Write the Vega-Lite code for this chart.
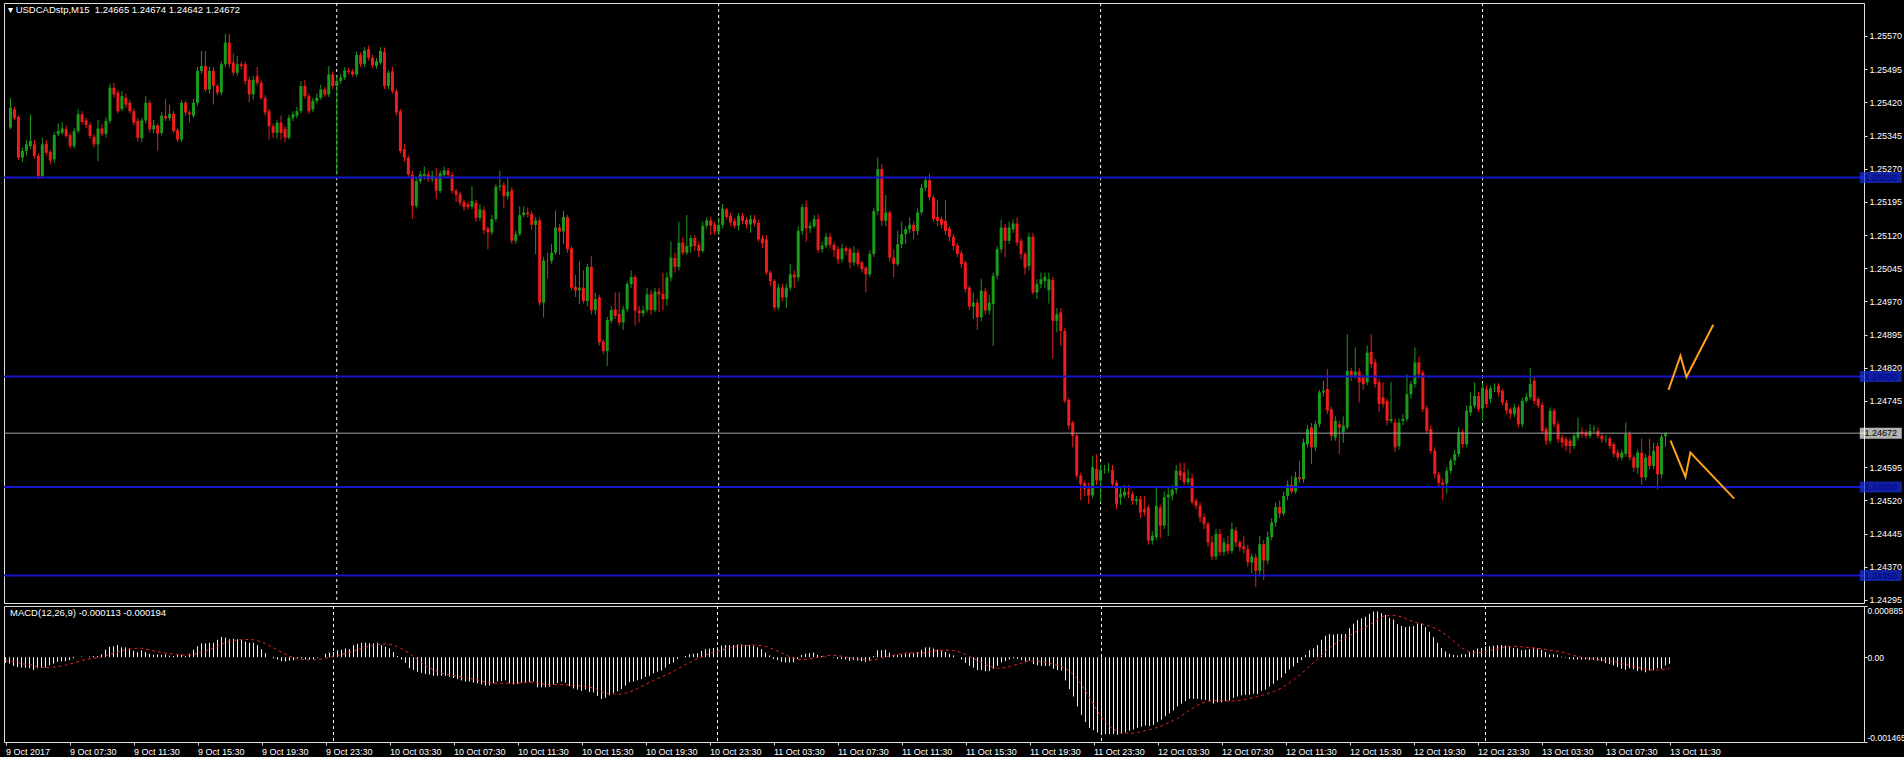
{
"$schema": "https://vega.github.io/schema/vega-lite/v6.json",
"background": "#000000",
"padding": {"left": 2, "top": 2, "right": 0, "bottom": 0},
"bounds": "flush",
"spacing": 3,
"config": {
  "view": {"stroke": "#e0e0e0", "strokeWidth": 1},
  "axis": {"labelFont": "Liberation Sans", "labelFontSize": 9, "labelColor": "#ffffff", "tickColor": "#e0e0e0", "tickSize": 3, "labelPadding": 2, "domain": false, "grid": false},
  "title": {"font": "Liberation Sans", "fontSize": 9.5, "fontWeight": "normal", "color": "#ffffff", "anchor": "start", "frame": "group"}
},
"datasets": {
"sep": [{"i": 82}, {"i": 178}, {"i": 274}, {"i": 370}],
"lv": [{"p": 1.2525, "t": "b"}, {"p": 1.248, "t": "b"}, {"p": 1.2455, "t": "b"}, {"p": 1.2435, "t": "b"}, {"p": 1.24672, "t": "g"}],
"arw": [{"g": "a", "k": 0, "i": 416.75, "p": 1.2477}, {"g": "a", "k": 1, "i": 419.75, "p": 1.24847}, {"g": "a", "k": 2, "i": 421.25, "p": 1.24799}, {"g": "a", "k": 3, "i": 428, "p": 1.24917}, {"g": "b", "k": 0, "i": 417.25, "p": 1.24655}, {"g": "b", "k": 1, "i": 421, "p": 1.24573}, {"g": "b", "k": 2, "i": 422.25, "p": 1.24628}, {"g": "b", "k": 3, "i": 433.25, "p": 1.24524}],
"bars": [
{"i":0,"o":1.25363,"h":1.2543,"l":1.25359,"c":1.25408,"m":-0.0001,"s":-0.00006},
{"i":1,"o":1.25404,"h":1.2541,"l":1.2538,"c":1.25384,"m":-0.00011,"s":-0.00007},
{"i":2,"o":1.25387,"h":1.2539,"l":1.2529,"c":1.25295,"m":-0.00015,"s":-0.00008},
{"i":3,"o":1.25295,"h":1.25318,"l":1.25285,"c":1.2531,"m":-0.00017,"s":-0.00009},
{"i":4,"o":1.2531,"h":1.25335,"l":1.253,"c":1.25325,"m":-0.00018,"s":-0.00011},
{"i":5,"o":1.25321,"h":1.25393,"l":1.25315,"c":1.25333,"m":-0.00018,"s":-0.00012},
{"i":6,"o":1.25325,"h":1.25335,"l":1.25292,"c":1.25299,"m":-0.00019,"s":-0.00013},
{"i":7,"o":1.25299,"h":1.25305,"l":1.25246,"c":1.25253,"m":-0.00022,"s":-0.00014},
{"i":8,"o":1.25253,"h":1.2534,"l":1.2525,"c":1.25325,"m":-0.00019,"s":-0.000166},
{"i":9,"o":1.25326,"h":1.25335,"l":1.253,"c":1.25306,"m":-0.00018,"s":-0.000174},
{"i":10,"o":1.25308,"h":1.25312,"l":1.2528,"c":1.25289,"m":-0.00018,"s":-0.000182},
{"i":11,"o":1.25291,"h":1.25352,"l":1.25284,"c":1.25346,"m":-0.00014,"s":-0.000181},
{"i":12,"o":1.25348,"h":1.25372,"l":1.25343,"c":1.25355,"m":-0.00011,"s":-0.000174},
{"i":13,"o":1.25351,"h":1.25375,"l":1.25346,"c":1.25361,"m":-0.00008,"s":-0.000163},
{"i":14,"o":1.2536,"h":1.25368,"l":1.2534,"c":1.25344,"m":-0.00007,"s":-0.000151},
{"i":15,"o":1.25346,"h":1.25352,"l":1.25316,"c":1.25321,"m":-0.00007,"s":-0.000138},
{"i":16,"o":1.25321,"h":1.25362,"l":1.25316,"c":1.25355,"m":-0.00005,"s":-0.000119},
{"i":17,"o":1.25355,"h":1.25404,"l":1.2535,"c":1.25393,"m":-0.00002,"s":-0.0001},
{"i":18,"o":1.25393,"h":1.254,"l":1.2537,"c":1.25376,"m":0,"s":-0.00008},
{"i":19,"o":1.25379,"h":1.25385,"l":1.25362,"c":1.25369,"m":0.00001,"s":-0.000059},
{"i":20,"o":1.25369,"h":1.25375,"l":1.25338,"c":1.25344,"m":0,"s":-0.000043},
{"i":21,"o":1.25342,"h":1.25348,"l":1.25318,"c":1.25325,"m":0.00001,"s":-0.00003},
{"i":22,"o":1.25325,"h":1.2538,"l":1.25287,"c":1.25361,"m":0.00002,"s":-0.000019},
{"i":23,"o":1.25361,"h":1.2537,"l":1.25343,"c":1.25349,"m":0.00002,"s":-0.000009},
{"i":24,"o":1.25349,"h":1.25386,"l":1.2534,"c":1.25378,"m":0.00005,"s":0.000004},
{"i":25,"o":1.25378,"h":1.25462,"l":1.25372,"c":1.25453,"m":0.00013,"s":0.000024},
{"i":26,"o":1.25453,"h":1.25464,"l":1.2543,"c":1.25438,"m":0.00018,"s":0.000047},
{"i":27,"o":1.25442,"h":1.25448,"l":1.25395,"c":1.254,"m":0.00019,"s":0.000068},
{"i":28,"o":1.25405,"h":1.25445,"l":1.254,"c":1.25434,"m":0.00021,"s":0.00009},
{"i":29,"o":1.2543,"h":1.2544,"l":1.25408,"c":1.25415,"m":0.00017,"s":0.000109},
{"i":30,"o":1.25419,"h":1.25425,"l":1.25395,"c":1.254,"m":0.00017,"s":0.000127},
{"i":31,"o":1.254,"h":1.25406,"l":1.25368,"c":1.25374,"m":0.00015,"s":0.000141},
{"i":32,"o":1.25378,"h":1.25384,"l":1.25331,"c":1.2534,"m":0.00011,"s":0.000151},
{"i":33,"o":1.25339,"h":1.25385,"l":1.2533,"c":1.25379,"m":0.00009,"s":0.000156},
{"i":34,"o":1.25379,"h":1.25434,"l":1.25372,"c":1.25419,"m":0.00012,"s":0.000154},
{"i":35,"o":1.25419,"h":1.25425,"l":1.25352,"c":1.25359,"m":0.00009,"s":0.000144},
{"i":36,"o":1.25359,"h":1.2538,"l":1.2535,"c":1.25368,"m":0.00006,"s":0.00013},
{"i":37,"o":1.25368,"h":1.25372,"l":1.25311,"c":1.25349,"m":0.00004,"s":0.000111},
{"i":38,"o":1.25351,"h":1.25398,"l":1.25345,"c":1.2539,"m":0.00005,"s":0.000098},
{"i":39,"o":1.25389,"h":1.25427,"l":1.25378,"c":1.25384,"m":0.00004,"s":0.000083},
{"i":40,"o":1.25384,"h":1.25415,"l":1.25378,"c":1.25394,"m":0.00005,"s":0.000072},
{"i":41,"o":1.25394,"h":1.254,"l":1.2535,"c":1.25355,"m":0.00003,"s":0.000063},
{"i":42,"o":1.25357,"h":1.25362,"l":1.2533,"c":1.25336,"m":0.00002,"s":0.000056},
{"i":43,"o":1.25336,"h":1.25425,"l":1.2533,"c":1.25419,"m":0.00004,"s":0.000047},
{"i":44,"o":1.25419,"h":1.25424,"l":1.2539,"c":1.25397,"m":0.00004,"s":0.000041},
{"i":45,"o":1.25397,"h":1.25402,"l":1.25374,"c":1.25393,"m":0.00002,"s":0.000037},
{"i":46,"o":1.2539,"h":1.25428,"l":1.25385,"c":1.25419,"m":0.00006,"s":0.000039},
{"i":47,"o":1.25419,"h":1.255,"l":1.25412,"c":1.25491,"m":0.00013,"s":0.000048},
{"i":48,"o":1.25491,"h":1.25536,"l":1.25485,"c":1.25502,"m":0.00019,"s":0.000064},
{"i":49,"o":1.25502,"h":1.25536,"l":1.25443,"c":1.25449,"m":0.00024,"s":0.000086},
{"i":50,"o":1.25449,"h":1.255,"l":1.2544,"c":1.25491,"m":0.00024,"s":0.000109},
{"i":51,"o":1.25491,"h":1.255,"l":1.25415,"c":1.25457,"m":0.00025,"s":0.000134},
{"i":52,"o":1.25457,"h":1.25462,"l":1.25436,"c":1.25442,"m":0.00025,"s":0.000158},
{"i":53,"o":1.25442,"h":1.25512,"l":1.25436,"c":1.25506,"m":0.0003,"s":0.000187},
{"i":54,"o":1.25506,"h":1.25575,"l":1.255,"c":1.25555,"m":0.00035,"s":0.000223},
{"i":55,"o":1.25555,"h":1.25575,"l":1.25498,"c":1.25506,"m":0.00034,"s":0.000254},
{"i":56,"o":1.2551,"h":1.2553,"l":1.2548,"c":1.25487,"m":0.00031,"s":0.000274},
{"i":57,"o":1.25487,"h":1.25525,"l":1.2548,"c":1.25506,"m":0.00032,"s":0.000289},
{"i":58,"o":1.25506,"h":1.25512,"l":1.25495,"c":1.25502,"m":0.00031,"s":0.000297},
{"i":59,"o":1.25506,"h":1.25512,"l":1.2546,"c":1.25468,"m":0.0003,"s":0.000303},
{"i":60,"o":1.25471,"h":1.25478,"l":1.2542,"c":1.25438,"m":0.00027,"s":0.000306},
{"i":61,"o":1.25438,"h":1.2548,"l":1.25426,"c":1.25471,"m":0.00025,"s":0.000306},
{"i":62,"o":1.25479,"h":1.255,"l":1.25458,"c":1.25464,"m":0.00025,"s":0.0003},
{"i":63,"o":1.25464,"h":1.2547,"l":1.25425,"c":1.2543,"m":0.00021,"s":0.000284},
{"i":64,"o":1.2543,"h":1.25436,"l":1.2539,"c":1.25397,"m":0.00014,"s":0.000262},
{"i":65,"o":1.254,"h":1.25405,"l":1.25336,"c":1.25366,"m":0.00007,"s":0.000236},
{"i":66,"o":1.25366,"h":1.25372,"l":1.2534,"c":1.25351,"m":0,"s":0.0002},
{"i":67,"o":1.25351,"h":1.2538,"l":1.25338,"c":1.25374,"m":-0.00002,"s":0.000163},
{"i":68,"o":1.25374,"h":1.2539,"l":1.25335,"c":1.25351,"m":-0.00004,"s":0.000126},
{"i":69,"o":1.2536,"h":1.25366,"l":1.2533,"c":1.2534,"m":-0.00007,"s":0.000088},
{"i":70,"o":1.2534,"h":1.25392,"l":1.25336,"c":1.25385,"m":-0.00007,"s":0.000052},
{"i":71,"o":1.25385,"h":1.254,"l":1.25378,"c":1.25393,"m":-0.00006,"s":0.000018},
{"i":72,"o":1.2539,"h":1.2541,"l":1.25384,"c":1.254,"m":-0.00005,"s":-0.000011},
{"i":73,"o":1.254,"h":1.25468,"l":1.25395,"c":1.25457,"m":-0.00002,"s":-0.000029},
{"i":74,"o":1.25457,"h":1.2547,"l":1.25428,"c":1.25434,"m":-0.00002,"s":-0.000039},
{"i":75,"o":1.25434,"h":1.2544,"l":1.25394,"c":1.254,"m":-0.00004,"s":-0.000043},
{"i":76,"o":1.25404,"h":1.2543,"l":1.25398,"c":1.25423,"m":-0.00004,"s":-0.000046},
{"i":77,"o":1.25423,"h":1.2544,"l":1.25418,"c":1.2543,"m":-0.00003,"s":-0.000044},
{"i":78,"o":1.2543,"h":1.2546,"l":1.25425,"c":1.25449,"m":-0.00001,"s":-0.000038},
{"i":79,"o":1.25449,"h":1.25455,"l":1.25432,"c":1.25438,"m":0,"s":-0.00003},
{"i":80,"o":1.25438,"h":1.25502,"l":1.25432,"c":1.25483,"m":0.00006,"s":-0.000017},
{"i":81,"o":1.25483,"h":1.2549,"l":1.2545,"c":1.25457,"m":0.00008,"s":-0.000002},
{"i":82,"o":1.25457,"h":1.2548,"l":1.25257,"c":1.25468,"m":0.00009,"s":0.00001},
{"i":83,"o":1.25468,"h":1.25484,"l":1.25462,"c":1.25476,"m":0.00012,"s":0.000026},
{"i":84,"o":1.25476,"h":1.255,"l":1.2547,"c":1.25492,"m":0.00013,"s":0.000044},
{"i":85,"o":1.25492,"h":1.25498,"l":1.25484,"c":1.25489,"m":0.00015,"s":0.000066},
{"i":86,"o":1.2549,"h":1.25495,"l":1.25478,"c":1.25483,"m":0.00014,"s":0.000084},
{"i":87,"o":1.25483,"h":1.25535,"l":1.25478,"c":1.25527,"m":0.00021,"s":0.000109},
{"i":88,"o":1.25527,"h":1.25533,"l":1.255,"c":1.25507,"m":0.00023,"s":0.000134},
{"i":89,"o":1.25507,"h":1.25545,"l":1.255,"c":1.25537,"m":0.00025,"s":0.000156},
{"i":90,"o":1.2554,"h":1.25548,"l":1.25515,"c":1.25521,"m":0.00025,"s":0.000174},
{"i":91,"o":1.25521,"h":1.25527,"l":1.25498,"c":1.25504,"m":0.00024,"s":0.000191},
{"i":92,"o":1.25502,"h":1.2552,"l":1.25496,"c":1.25513,"m":0.00024,"s":0.000204},
{"i":93,"o":1.2551,"h":1.25545,"l":1.25505,"c":1.25536,"m":0.00025,"s":0.000218},
{"i":94,"o":1.25534,"h":1.25544,"l":1.2545,"c":1.25457,"m":0.00021,"s":0.000224},
{"i":95,"o":1.25457,"h":1.25492,"l":1.2545,"c":1.25487,"m":0.00018,"s":0.000229},
{"i":96,"o":1.2549,"h":1.255,"l":1.2544,"c":1.25445,"m":0.00015,"s":0.000222},
{"i":97,"o":1.25445,"h":1.2545,"l":1.2539,"c":1.25397,"m":0.00009,"s":0.000207},
{"i":98,"o":1.254,"h":1.25405,"l":1.25305,"c":1.2531,"m":0.00002,"s":0.000181},
{"i":99,"o":1.25314,"h":1.25325,"l":1.25285,"c":1.25295,"m":-0.00004,"s":0.000149},
{"i":100,"o":1.25295,"h":1.253,"l":1.2525,"c":1.25257,"m":-0.0001,"s":0.000111},
{"i":101,"o":1.25257,"h":1.25265,"l":1.25156,"c":1.25186,"m":-0.00019,"s":0.000063},
{"i":102,"o":1.25186,"h":1.2525,"l":1.2518,"c":1.25242,"m":-0.00022,"s":0.000011},
{"i":103,"o":1.25242,"h":1.25265,"l":1.25236,"c":1.25257,"m":-0.00025,"s":-0.00004},
{"i":104,"o":1.25254,"h":1.25275,"l":1.25245,"c":1.25258,"m":-0.00027,"s":-0.00009},
{"i":105,"o":1.25257,"h":1.25264,"l":1.2524,"c":1.25246,"m":-0.00029,"s":-0.000139},
{"i":106,"o":1.25246,"h":1.25265,"l":1.2524,"c":1.25254,"m":-0.0003,"s":-0.000182},
{"i":107,"o":1.2525,"h":1.25272,"l":1.25201,"c":1.2522,"m":-0.00032,"s":-0.00022},
{"i":108,"o":1.2522,"h":1.25265,"l":1.25215,"c":1.25259,"m":-0.00032,"s":-0.000251},
{"i":109,"o":1.25256,"h":1.25275,"l":1.2525,"c":1.25266,"m":-0.00032,"s":-0.000276},
{"i":110,"o":1.25266,"h":1.25272,"l":1.2525,"c":1.25256,"m":-0.00032,"s":-0.00029},
{"i":111,"o":1.25256,"h":1.25262,"l":1.25214,"c":1.2522,"m":-0.00034,"s":-0.000303},
{"i":112,"o":1.2522,"h":1.25225,"l":1.25195,"c":1.25211,"m":-0.00036,"s":-0.000316},
{"i":113,"o":1.25212,"h":1.25218,"l":1.25186,"c":1.25193,"m":-0.00038,"s":-0.000328},
{"i":114,"o":1.25195,"h":1.252,"l":1.25175,"c":1.25183,"m":-0.0004,"s":-0.00034},
{"i":115,"o":1.2519,"h":1.25196,"l":1.25178,"c":1.25184,"m":-0.00042,"s":-0.000353},
{"i":116,"o":1.25184,"h":1.25231,"l":1.25178,"c":1.25197,"m":-0.00042,"s":-0.000364},
{"i":117,"o":1.25193,"h":1.252,"l":1.2515,"c":1.25159,"m":-0.00044,"s":-0.000378},
{"i":118,"o":1.25159,"h":1.2519,"l":1.25152,"c":1.25178,"m":-0.00045,"s":-0.000392},
{"i":119,"o":1.25176,"h":1.25185,"l":1.25122,"c":1.25131,"m":-0.00047,"s":-0.000409},
{"i":120,"o":1.25135,"h":1.2514,"l":1.25088,"c":1.25126,"m":-0.00049,"s":-0.000426},
{"i":121,"o":1.25126,"h":1.25165,"l":1.2512,"c":1.25156,"m":-0.00049,"s":-0.00044},
{"i":122,"o":1.25156,"h":1.25235,"l":1.2515,"c":1.25229,"m":-0.00045,"s":-0.000448},
{"i":123,"o":1.25229,"h":1.25265,"l":1.2522,"c":1.25231,"m":-0.00042,"s":-0.00045},
{"i":124,"o":1.25233,"h":1.2524,"l":1.2518,"c":1.25208,"m":-0.00041,"s":-0.000449},
{"i":125,"o":1.25208,"h":1.2525,"l":1.252,"c":1.25218,"m":-0.0004,"s":-0.000447},
{"i":126,"o":1.25221,"h":1.25228,"l":1.251,"c":1.25107,"m":-0.00045,"s":-0.000448},
{"i":127,"o":1.25107,"h":1.2513,"l":1.251,"c":1.25122,"m":-0.00047,"s":-0.00045},
{"i":128,"o":1.25122,"h":1.25185,"l":1.25118,"c":1.25165,"m":-0.00046,"s":-0.000449},
{"i":129,"o":1.25165,"h":1.25185,"l":1.2516,"c":1.25171,"m":-0.00044,"s":-0.000443},
{"i":130,"o":1.25171,"h":1.25182,"l":1.2516,"c":1.25167,"m":-0.00043,"s":-0.000437},
{"i":131,"o":1.25168,"h":1.25175,"l":1.25132,"c":1.25143,"m":-0.00043,"s":-0.000434},
{"i":132,"o":1.25143,"h":1.2516,"l":1.25077,"c":1.25153,"m":-0.00042,"s":-0.000434},
{"i":133,"o":1.25153,"h":1.2516,"l":1.2496,"c":1.24967,"m":-0.00052,"s":-0.000447},
{"i":134,"o":1.24967,"h":1.2507,"l":1.24934,"c":1.25062,"m":-0.00052,"s":-0.00046},
{"i":135,"o":1.25062,"h":1.2508,"l":1.25022,"c":1.25061,"m":-0.00052,"s":-0.000468},
{"i":136,"o":1.25062,"h":1.251,"l":1.25055,"c":1.2508,"m":-0.00051,"s":-0.000472},
{"i":137,"o":1.2508,"h":1.25175,"l":1.25075,"c":1.25137,"m":-0.00047,"s":-0.000473},
{"i":138,"o":1.25137,"h":1.25145,"l":1.25075,"c":1.25128,"m":-0.00045,"s":-0.000474},
{"i":139,"o":1.25128,"h":1.25175,"l":1.251,"c":1.25161,"m":-0.00042,"s":-0.000473},
{"i":140,"o":1.2516,"h":1.25165,"l":1.2508,"c":1.25088,"m":-0.00044,"s":-0.000474},
{"i":141,"o":1.2509,"h":1.25095,"l":1.24995,"c":1.25001,"m":-0.0005,"s":-0.000483},
{"i":142,"o":1.25003,"h":1.2503,"l":1.2498,"c":1.24995,"m":-0.00054,"s":-0.000486},
{"i":143,"o":1.24995,"h":1.2506,"l":1.24964,"c":1.25001,"m":-0.00056,"s":-0.00049},
{"i":144,"o":1.25001,"h":1.2504,"l":1.24965,"c":1.24971,"m":-0.00058,"s":-0.000497},
{"i":145,"o":1.24971,"h":1.25055,"l":1.24958,"c":1.25048,"m":-0.00056,"s":-0.000502},
{"i":146,"o":1.25048,"h":1.25072,"l":1.2494,"c":1.2495,"m":-0.0006,"s":-0.000517},
{"i":147,"o":1.2495,"h":1.2499,"l":1.2494,"c":1.24975,"m":-0.00061,"s":-0.000534},
{"i":148,"o":1.24979,"h":1.24985,"l":1.2487,"c":1.24877,"m":-0.00067,"s":-0.000562},
{"i":149,"o":1.24879,"h":1.24884,"l":1.2485,"c":1.24858,"m":-0.00072,"s":-0.000593},
{"i":150,"o":1.24858,"h":1.24935,"l":1.24824,"c":1.24928,"m":-0.0007,"s":-0.000616},
{"i":151,"o":1.24926,"h":1.2496,"l":1.2492,"c":1.2495,"m":-0.00066,"s":-0.000629},
{"i":152,"o":1.24952,"h":1.2499,"l":1.2493,"c":1.24937,"m":-0.00062,"s":-0.000636},
{"i":153,"o":1.24941,"h":1.2499,"l":1.24915,"c":1.24922,"m":-0.00059,"s":-0.000637},
{"i":154,"o":1.24922,"h":1.2496,"l":1.24905,"c":1.24952,"m":-0.00055,"s":-0.000636},
{"i":155,"o":1.24952,"h":1.25015,"l":1.24945,"c":1.25009,"m":-0.00049,"s":-0.000623},
{"i":156,"o":1.25009,"h":1.2504,"l":1.25,"c":1.25025,"m":-0.00043,"s":-0.000603},
{"i":157,"o":1.25025,"h":1.2503,"l":1.24915,"c":1.24949,"m":-0.00042,"s":-0.000576},
{"i":158,"o":1.24949,"h":1.2496,"l":1.24922,"c":1.24943,"m":-0.0004,"s":-0.00054},
{"i":159,"o":1.24943,"h":1.2496,"l":1.24935,"c":1.2495,"m":-0.00038,"s":-0.000504},
{"i":160,"o":1.2495,"h":1.25,"l":1.24945,"c":1.24986,"m":-0.00034,"s":-0.000469},
{"i":161,"o":1.24986,"h":1.24995,"l":1.2494,"c":1.2495,"m":-0.00032,"s":-0.000436},
{"i":162,"o":1.2495,"h":1.25,"l":1.24945,"c":1.24992,"m":-0.00028,"s":-0.000401},
{"i":163,"o":1.24992,"h":1.25,"l":1.24945,"c":1.24986,"m":-0.00025,"s":-0.000368},
{"i":164,"o":1.24987,"h":1.25035,"l":1.2495,"c":1.24975,"m":-0.00023,"s":-0.000339},
{"i":165,"o":1.24975,"h":1.25035,"l":1.2496,"c":1.25024,"m":-0.00018,"s":-0.000311},
{"i":166,"o":1.25024,"h":1.25105,"l":1.25015,"c":1.25069,"m":-0.00012,"s":-0.000278},
{"i":167,"o":1.25068,"h":1.2508,"l":1.25035,"c":1.25048,"m":-0.00009,"s":-0.000243},
{"i":168,"o":1.25048,"h":1.2515,"l":1.2504,"c":1.25103,"m":-0.00003,"s":-0.000204},
{"i":169,"o":1.25103,"h":1.25115,"l":1.25075,"c":1.2508,"m":0,"s":-0.000167},
{"i":170,"o":1.2508,"h":1.25165,"l":1.25075,"c":1.25095,"m":0.00002,"s":-0.000129},
{"i":171,"o":1.25093,"h":1.2512,"l":1.2508,"c":1.25113,"m":0.00005,"s":-0.000092},
{"i":172,"o":1.25113,"h":1.2512,"l":1.25085,"c":1.25095,"m":0.00006,"s":-0.000058},
{"i":173,"o":1.25097,"h":1.25105,"l":1.2507,"c":1.25084,"m":0.00007,"s":-0.000024},
{"i":174,"o":1.25084,"h":1.2515,"l":1.2508,"c":1.25141,"m":0.00011,"s":0.000008},
{"i":175,"o":1.25141,"h":1.2516,"l":1.25135,"c":1.25153,"m":0.00014,"s":0.000037},
{"i":176,"o":1.25153,"h":1.2516,"l":1.2512,"c":1.25141,"m":0.00015,"s":0.000063},
{"i":177,"o":1.25144,"h":1.2515,"l":1.2512,"c":1.25128,"m":0.00016,"s":0.000084},
{"i":178,"o":1.25128,"h":1.2516,"l":1.2512,"c":1.25143,"m":0.00017,"s":0.000103},
{"i":179,"o":1.25143,"h":1.2519,"l":1.25135,"c":1.2518,"m":0.0002,"s":0.000123},
{"i":180,"o":1.25178,"h":1.25182,"l":1.25155,"c":1.25161,"m":0.00021,"s":0.000141},
{"i":181,"o":1.25163,"h":1.2517,"l":1.2514,"c":1.25148,"m":0.00021,"s":0.000158},
{"i":182,"o":1.25152,"h":1.25158,"l":1.25135,"c":1.25141,"m":0.00021,"s":0.000173},
{"i":183,"o":1.25141,"h":1.2517,"l":1.2513,"c":1.25163,"m":0.00022,"s":0.000186},
{"i":184,"o":1.25163,"h":1.2517,"l":1.25145,"c":1.25152,"m":0.00022,"s":0.000194},
{"i":185,"o":1.25154,"h":1.2516,"l":1.25135,"c":1.25144,"m":0.00021,"s":0.000201},
{"i":186,"o":1.25144,"h":1.25165,"l":1.25125,"c":1.25156,"m":0.00021,"s":0.000207},
{"i":187,"o":1.25156,"h":1.25165,"l":1.2514,"c":1.25146,"m":0.0002,"s":0.00021},
{"i":188,"o":1.25148,"h":1.25155,"l":1.25105,"c":1.2511,"m":0.00017,"s":0.000207},
{"i":189,"o":1.25113,"h":1.2512,"l":1.2509,"c":1.25101,"m":0.00014,"s":0.000199},
{"i":190,"o":1.2511,"h":1.2512,"l":1.2503,"c":1.25035,"m":0.00008,"s":0.000184},
{"i":191,"o":1.25035,"h":1.2504,"l":1.25005,"c":1.25016,"m":0.00003,"s":0.000164},
{"i":192,"o":1.25016,"h":1.2502,"l":1.2495,"c":1.24956,"m":-0.00003,"s":0.000137},
{"i":193,"o":1.24956,"h":1.2501,"l":1.2495,"c":1.25001,"m":-0.00005,"s":0.000107},
{"i":194,"o":1.25001,"h":1.2501,"l":1.2497,"c":1.24979,"m":-0.00008,"s":0.000074},
{"i":195,"o":1.24979,"h":1.2501,"l":1.24955,"c":1.25001,"m":-0.00009,"s":0.000041},
{"i":196,"o":1.25001,"h":1.25055,"l":1.24995,"c":1.25031,"m":-0.00009,"s":0.000009},
{"i":197,"o":1.25031,"h":1.2504,"l":1.25,"c":1.25024,"m":-0.00009,"s":-0.00002},
{"i":198,"o":1.25024,"h":1.2514,"l":1.25015,"c":1.25129,"m":-0.00003,"s":-0.000039},
{"i":199,"o":1.25129,"h":1.2519,"l":1.2512,"c":1.25183,"m":0.00004,"s":-0.000043},
{"i":200,"o":1.25183,"h":1.25198,"l":1.25105,"c":1.25135,"m":0.00006,"s":-0.00004},
{"i":201,"o":1.25135,"h":1.2515,"l":1.25125,"c":1.25141,"m":0.00007,"s":-0.000029},
{"i":202,"o":1.2514,"h":1.25165,"l":1.25135,"c":1.25156,"m":0.00008,"s":-0.000014},
{"i":203,"o":1.25156,"h":1.25168,"l":1.2508,"c":1.25086,"m":0.00004,"s":-0.000001},
{"i":204,"o":1.25088,"h":1.25105,"l":1.2508,"c":1.25096,"m":0.00002,"s":0.000011},
{"i":205,"o":1.25096,"h":1.25125,"l":1.2509,"c":1.25116,"m":0.00001,"s":0.000022},
{"i":206,"o":1.25116,"h":1.25125,"l":1.2509,"c":1.25098,"m":0,"s":0.000032},
{"i":207,"o":1.25098,"h":1.25105,"l":1.2507,"c":1.25086,"m":-0.00001,"s":0.000034},
{"i":208,"o":1.25088,"h":1.25095,"l":1.25055,"c":1.25065,"m":-0.00003,"s":0.000027},
{"i":209,"o":1.25065,"h":1.251,"l":1.25058,"c":1.2509,"m":-0.00003,"s":0.000017},
{"i":210,"o":1.2509,"h":1.25095,"l":1.25075,"c":1.25084,"m":-0.00004,"s":0.000004},
{"i":211,"o":1.25088,"h":1.25092,"l":1.25045,"c":1.25058,"m":-0.00006,"s":-0.000011},
{"i":212,"o":1.25058,"h":1.25095,"l":1.2505,"c":1.2508,"m":-0.00005,"s":-0.000021},
{"i":213,"o":1.2508,"h":1.25088,"l":1.25048,"c":1.25054,"m":-0.00006,"s":-0.00003},
{"i":214,"o":1.25058,"h":1.25062,"l":1.25035,"c":1.25043,"m":-0.00007,"s":-0.000039},
{"i":215,"o":1.25046,"h":1.2505,"l":1.2499,"c":1.25031,"m":-0.00008,"s":-0.000048},
{"i":216,"o":1.25031,"h":1.25085,"l":1.25025,"c":1.25077,"m":-0.00006,"s":-0.000053},
{"i":217,"o":1.25077,"h":1.25182,"l":1.2507,"c":1.25174,"m":0.00002,"s":-0.000048},
{"i":218,"o":1.25174,"h":1.25295,"l":1.25165,"c":1.25269,"m":0.00012,"s":-0.000031},
{"i":219,"o":1.25269,"h":1.2528,"l":1.2514,"c":1.25152,"m":0.00012,"s":-0.000013},
{"i":220,"o":1.25152,"h":1.2521,"l":1.2514,"c":1.25171,"m":0.00013,"s":0.000008},
{"i":221,"o":1.25171,"h":1.25176,"l":1.2506,"c":1.25069,"m":0.00008,"s":0.000022},
{"i":222,"o":1.25069,"h":1.25088,"l":1.25025,"c":1.25054,"m":0.00004,"s":0.000033},
{"i":223,"o":1.25054,"h":1.2513,"l":1.2505,"c":1.25099,"m":0.00004,"s":0.000046},
{"i":224,"o":1.25099,"h":1.2515,"l":1.2509,"c":1.25122,"m":0.00005,"s":0.00006},
{"i":225,"o":1.25122,"h":1.2514,"l":1.251,"c":1.25133,"m":0.00006,"s":0.000073},
{"i":226,"o":1.25133,"h":1.2516,"l":1.25125,"c":1.25143,"m":0.00007,"s":0.000079},
{"i":227,"o":1.25143,"h":1.2515,"l":1.2511,"c":1.25129,"m":0.00007,"s":0.000073},
{"i":228,"o":1.25129,"h":1.2518,"l":1.2512,"c":1.25171,"m":0.00009,"s":0.00007},
{"i":229,"o":1.25171,"h":1.25235,"l":1.25165,"c":1.25227,"m":0.00013,"s":0.00007},
{"i":230,"o":1.25227,"h":1.25252,"l":1.2522,"c":1.25244,"m":0.00017,"s":0.00008},
{"i":231,"o":1.25244,"h":1.25258,"l":1.25198,"c":1.25205,"m":0.00017,"s":0.000094},
{"i":232,"o":1.25205,"h":1.2521,"l":1.2515,"c":1.25156,"m":0.00015,"s":0.000107},
{"i":233,"o":1.25161,"h":1.252,"l":1.2514,"c":1.25152,"m":0.00013,"s":0.000116},
{"i":234,"o":1.25156,"h":1.25162,"l":1.25135,"c":1.25143,"m":0.00011,"s":0.000121},
{"i":235,"o":1.25152,"h":1.252,"l":1.2512,"c":1.25129,"m":0.00009,"s":0.000123},
{"i":236,"o":1.25135,"h":1.2514,"l":1.25105,"c":1.25116,"m":0.00006,"s":0.000122},
{"i":237,"o":1.25116,"h":1.25122,"l":1.25085,"c":1.25095,"m":0.00003,"s":0.000116},
{"i":238,"o":1.25097,"h":1.25102,"l":1.2507,"c":1.25077,"m":0,"s":0.000101},
{"i":239,"o":1.25079,"h":1.25085,"l":1.25045,"c":1.25054,"m":-0.00004,"s":0.000078},
{"i":240,"o":1.25058,"h":1.25062,"l":1.2499,"c":1.24998,"m":-0.0001,"s":0.000048},
{"i":241,"o":1.25001,"h":1.25005,"l":1.2495,"c":1.24958,"m":-0.00015,"s":0.000014},
{"i":242,"o":1.24958,"h":1.2499,"l":1.2493,"c":1.24967,"m":-0.00018,"s":-0.00002},
{"i":243,"o":1.24967,"h":1.24975,"l":1.24905,"c":1.24934,"m":-0.00022,"s":-0.000057},
{"i":244,"o":1.24934,"h":1.2502,"l":1.24925,"c":1.24994,"m":-0.00022,"s":-0.000091},
{"i":245,"o":1.24993,"h":1.25,"l":1.2494,"c":1.24949,"m":-0.00024,"s":-0.000124},
{"i":246,"o":1.24949,"h":1.24985,"l":1.2494,"c":1.24967,"m":-0.00024,"s":-0.000154},
{"i":247,"o":1.24964,"h":1.25035,"l":1.24869,"c":1.25028,"m":-0.0002,"s":-0.000177},
{"i":248,"o":1.25028,"h":1.25095,"l":1.2502,"c":1.25088,"m":-0.00015,"s":-0.000189},
{"i":249,"o":1.25088,"h":1.25155,"l":1.2508,"c":1.25137,"m":-0.00009,"s":-0.000188},
{"i":250,"o":1.25137,"h":1.25145,"l":1.2507,"c":1.25107,"m":-0.00007,"s":-0.000179},
{"i":251,"o":1.25107,"h":1.2515,"l":1.251,"c":1.25137,"m":-0.00004,"s":-0.000163},
{"i":252,"o":1.25133,"h":1.25155,"l":1.25125,"c":1.25146,"m":-0.00002,"s":-0.000141},
{"i":253,"o":1.25146,"h":1.2516,"l":1.25095,"c":1.25103,"m":-0.00003,"s":-0.00012},
{"i":254,"o":1.25107,"h":1.25112,"l":1.25065,"c":1.25077,"m":-0.00005,"s":-0.000099},
{"i":255,"o":1.25077,"h":1.25082,"l":1.2503,"c":1.25046,"m":-0.00008,"s":-0.000081},
{"i":256,"o":1.2505,"h":1.25125,"l":1.2504,"c":1.25116,"m":-0.00006,"s":-0.000066},
{"i":257,"o":1.25116,"h":1.25125,"l":1.24985,"c":1.2499,"m":-0.00012,"s":-0.000062},
{"i":258,"o":1.2499,"h":1.2502,"l":1.24975,"c":1.25009,"m":-0.00014,"s":-0.000068},
{"i":259,"o":1.25009,"h":1.25035,"l":1.25,"c":1.2502,"m":-0.00015,"s":-0.000077},
{"i":260,"o":1.25016,"h":1.25035,"l":1.25,"c":1.25025,"m":-0.00015,"s":-0.000089},
{"i":261,"o":1.24995,"h":1.25035,"l":1.24965,"c":1.2502,"m":-0.00015,"s":-0.000103},
{"i":262,"o":1.25018,"h":1.25025,"l":1.2484,"c":1.24926,"m":-0.0002,"s":-0.000122},
{"i":263,"o":1.24926,"h":1.24955,"l":1.249,"c":1.24941,"m":-0.00022,"s":-0.000141},
{"i":264,"o":1.24945,"h":1.24955,"l":1.24869,"c":1.24903,"m":-0.00023,"s":-0.000158},
{"i":265,"o":1.24903,"h":1.2491,"l":1.2474,"c":1.24745,"m":-0.0004,"s":-0.000196},
{"i":266,"o":1.24747,"h":1.24752,"l":1.2468,"c":1.24689,"m":-0.00055,"s":-0.000243},
{"i":267,"o":1.24696,"h":1.247,"l":1.2464,"c":1.24666,"m":-0.00068,"s":-0.000303},
{"i":268,"o":1.24666,"h":1.24672,"l":1.2457,"c":1.24576,"m":-0.00085,"s":-0.000381},
{"i":269,"o":1.24576,"h":1.24582,"l":1.2452,"c":1.24557,"m":-0.001,"s":-0.000476},
{"i":270,"o":1.24559,"h":1.24565,"l":1.2453,"c":1.24546,"m":-0.00112,"s":-0.000583},
{"i":271,"o":1.24546,"h":1.2456,"l":1.24512,"c":1.24531,"m":-0.00122,"s":-0.000697},
{"i":272,"o":1.24531,"h":1.2462,"l":1.24525,"c":1.24595,"m":-0.00126,"s":-0.000812},
{"i":273,"o":1.24591,"h":1.24625,"l":1.24555,"c":1.24565,"m":-0.0013,"s":-0.000931},
{"i":274,"o":1.24565,"h":1.246,"l":1.24515,"c":1.24589,"m":-0.00132,"s":-0.001033},
{"i":275,"o":1.24589,"h":1.246,"l":1.2458,"c":1.2459,"m":-0.00133,"s":-0.00112},
{"i":276,"o":1.2459,"h":1.24605,"l":1.24582,"c":1.24591,"m":-0.00133,"s":-0.001192},
{"i":277,"o":1.24589,"h":1.246,"l":1.2455,"c":1.24557,"m":-0.00133,"s":-0.001246},
{"i":278,"o":1.2456,"h":1.24565,"l":1.245,"c":1.24512,"m":-0.00134,"s":-0.001283},
{"i":279,"o":1.24527,"h":1.2455,"l":1.2451,"c":1.24535,"m":-0.00132,"s":-0.001306},
{"i":280,"o":1.24531,"h":1.24555,"l":1.24525,"c":1.2454,"m":-0.0013,"s":-0.001314},
{"i":281,"o":1.24538,"h":1.24555,"l":1.24525,"c":1.24534,"m":-0.00127,"s":-0.001316},
{"i":282,"o":1.24534,"h":1.2454,"l":1.2451,"c":1.24519,"m":-0.00125,"s":-0.00131},
{"i":283,"o":1.24519,"h":1.2453,"l":1.2451,"c":1.24523,"m":-0.00122,"s":-0.001299},
{"i":284,"o":1.24523,"h":1.2453,"l":1.2448,"c":1.24493,"m":-0.0012,"s":-0.001284},
{"i":285,"o":1.245,"h":1.2453,"l":1.24485,"c":1.24493,"m":-0.00118,"s":-0.001268},
{"i":286,"o":1.24504,"h":1.2451,"l":1.2442,"c":1.24429,"m":-0.00119,"s":-0.001252},
{"i":287,"o":1.24429,"h":1.2445,"l":1.2442,"c":1.2444,"m":-0.00117,"s":-0.001233},
{"i":288,"o":1.24437,"h":1.2455,"l":1.2443,"c":1.24508,"m":-0.00112,"s":-0.001211},
{"i":289,"o":1.24504,"h":1.2451,"l":1.24435,"c":1.24463,"m":-0.00108,"s":-0.001187},
{"i":290,"o":1.24463,"h":1.2454,"l":1.24455,"c":1.24527,"m":-0.00102,"s":-0.001159},
{"i":291,"o":1.24527,"h":1.2455,"l":1.2444,"c":1.24533,"m":-0.00097,"s":-0.001128},
{"i":292,"o":1.24531,"h":1.24555,"l":1.2452,"c":1.24544,"m":-0.00092,"s":-0.001094},
{"i":293,"o":1.24544,"h":1.246,"l":1.24535,"c":1.24587,"m":-0.00085,"s":-0.001056},
{"i":294,"o":1.24587,"h":1.24605,"l":1.24565,"c":1.24576,"m":-0.0008,"s":-0.001013},
{"i":295,"o":1.24583,"h":1.24605,"l":1.24555,"c":1.24561,"m":-0.00076,"s":-0.000966},
{"i":296,"o":1.24561,"h":1.2459,"l":1.24555,"c":1.2457,"m":-0.00072,"s":-0.000916},
{"i":297,"o":1.2457,"h":1.2458,"l":1.2451,"c":1.24516,"m":-0.00072,"s":-0.000871},
{"i":298,"o":1.24519,"h":1.24525,"l":1.245,"c":1.24508,"m":-0.00072,"s":-0.000831},
{"i":299,"o":1.24508,"h":1.24515,"l":1.2447,"c":1.24482,"m":-0.00073,"s":-0.000799},
{"i":300,"o":1.24482,"h":1.2449,"l":1.24455,"c":1.24467,"m":-0.00074,"s":-0.000773},
{"i":301,"o":1.24467,"h":1.24472,"l":1.24415,"c":1.24425,"m":-0.00076,"s":-0.000756},
{"i":302,"o":1.24425,"h":1.2444,"l":1.24385,"c":1.24393,"m":-0.0008,"s":-0.00075},
{"i":303,"o":1.24393,"h":1.24455,"l":1.24385,"c":1.24444,"m":-0.00078,"s":-0.000748},
{"i":304,"o":1.24444,"h":1.24455,"l":1.24395,"c":1.24403,"m":-0.00078,"s":-0.00075},
{"i":305,"o":1.24403,"h":1.24435,"l":1.24395,"c":1.24425,"m":-0.00076,"s":-0.000754},
{"i":306,"o":1.24421,"h":1.2444,"l":1.24398,"c":1.24406,"m":-0.00075,"s":-0.000758},
{"i":307,"o":1.24406,"h":1.2447,"l":1.244,"c":1.24455,"m":-0.0007,"s":-0.000756},
{"i":308,"o":1.24452,"h":1.2446,"l":1.24415,"c":1.24425,"m":-0.00068,"s":-0.00075},
{"i":309,"o":1.24425,"h":1.2443,"l":1.24405,"c":1.24414,"m":-0.00066,"s":-0.000741},
{"i":310,"o":1.24416,"h":1.2444,"l":1.244,"c":1.2441,"m":-0.00065,"s":-0.000729},
{"i":311,"o":1.2441,"h":1.2442,"l":1.2437,"c":1.2438,"m":-0.00065,"s":-0.000712},
{"i":312,"o":1.2438,"h":1.244,"l":1.24355,"c":1.24393,"m":-0.00063,"s":-0.000696},
{"i":313,"o":1.24391,"h":1.244,"l":1.24324,"c":1.24361,"m":-0.00064,"s":-0.00068},
{"i":314,"o":1.24361,"h":1.2444,"l":1.2435,"c":1.24421,"m":-0.00058,"s":-0.00066},
{"i":315,"o":1.24421,"h":1.2443,"l":1.2434,"c":1.24384,"m":-0.00056,"s":-0.000639},
{"i":316,"o":1.24384,"h":1.2445,"l":1.24375,"c":1.24437,"m":-0.00051,"s":-0.000618},
{"i":317,"o":1.24437,"h":1.2448,"l":1.2443,"c":1.2447,"m":-0.00046,"s":-0.000593},
{"i":318,"o":1.2447,"h":1.24515,"l":1.2446,"c":1.24505,"m":-0.0004,"s":-0.000564},
{"i":319,"o":1.24505,"h":1.2452,"l":1.2448,"c":1.2449,"m":-0.00035,"s":-0.000531},
{"i":320,"o":1.2449,"h":1.2454,"l":1.24485,"c":1.2453,"m":-0.00028,"s":-0.00049},
{"i":321,"o":1.2453,"h":1.24565,"l":1.2452,"c":1.24555,"m":-0.00021,"s":-0.000443},
{"i":322,"o":1.24555,"h":1.24575,"l":1.24535,"c":1.2454,"m":-0.00016,"s":-0.00039},
{"i":323,"o":1.2454,"h":1.24585,"l":1.24535,"c":1.24572,"m":-0.0001,"s":-0.000337},
{"i":324,"o":1.24572,"h":1.2461,"l":1.2456,"c":1.24568,"m":-0.00005,"s":-0.00028},
{"i":325,"o":1.24568,"h":1.2466,"l":1.2456,"c":1.24651,"m":0.00004,"s":-0.000219},
{"i":326,"o":1.24647,"h":1.2469,"l":1.2464,"c":1.24681,"m":0.00012,"s":-0.000154},
{"i":327,"o":1.24685,"h":1.24695,"l":1.24602,"c":1.2464,"m":0.00015,"s":-0.000093},
{"i":328,"o":1.2464,"h":1.247,"l":1.24632,"c":1.24692,"m":0.00021,"s":-0.000031},
{"i":329,"o":1.24692,"h":1.2477,"l":1.24685,"c":1.24764,"m":0.0003,"s":0.000033},
{"i":330,"o":1.24764,"h":1.2479,"l":1.24755,"c":1.24768,"m":0.00037,"s":0.000098},
{"i":331,"o":1.24772,"h":1.24817,"l":1.24715,"c":1.24723,"m":0.0004,"s":0.00016},
{"i":332,"o":1.24726,"h":1.24732,"l":1.24655,"c":1.24666,"m":0.00039,"s":0.000214},
{"i":333,"o":1.24662,"h":1.2471,"l":1.24655,"c":1.247,"m":0.0004,"s":0.000264},
{"i":334,"o":1.24692,"h":1.247,"l":1.24625,"c":1.24685,"m":0.0004,"s":0.000304},
{"i":335,"o":1.24674,"h":1.2471,"l":1.2465,"c":1.24689,"m":0.0004,"s":0.000336},
{"i":336,"o":1.24685,"h":1.24896,"l":1.2468,"c":1.24813,"m":0.0005,"s":0.000374},
{"i":337,"o":1.24813,"h":1.2482,"l":1.2479,"c":1.24802,"m":0.00058,"s":0.000416},
{"i":338,"o":1.24802,"h":1.24866,"l":1.24795,"c":1.24811,"m":0.00064,"s":0.000453},
{"i":339,"o":1.24811,"h":1.2482,"l":1.24741,"c":1.24787,"m":0.00067,"s":0.000487},
{"i":340,"o":1.24798,"h":1.24805,"l":1.2477,"c":1.24783,"m":0.0007,"s":0.00052},
{"i":341,"o":1.24787,"h":1.2487,"l":1.2478,"c":1.24854,"m":0.00075,"s":0.00056},
{"i":342,"o":1.24856,"h":1.24896,"l":1.2482,"c":1.24828,"m":0.00079,"s":0.000603},
{"i":343,"o":1.24832,"h":1.2484,"l":1.24775,"c":1.24783,"m":0.00079,"s":0.000647},
{"i":344,"o":1.24787,"h":1.24795,"l":1.2472,"c":1.24738,"m":0.00076,"s":0.000687},
{"i":345,"o":1.24753,"h":1.24787,"l":1.2473,"c":1.24738,"m":0.00073,"s":0.000712},
{"i":346,"o":1.24745,"h":1.2475,"l":1.2469,"c":1.247,"m":0.00068,"s":0.000723},
{"i":347,"o":1.247,"h":1.24787,"l":1.24695,"c":1.24704,"m":0.00065,"s":0.000724},
{"i":348,"o":1.24696,"h":1.24705,"l":1.2463,"c":1.2464,"m":0.00057,"s":0.000713},
{"i":349,"o":1.24643,"h":1.24705,"l":1.24635,"c":1.24696,"m":0.00054,"s":0.000696},
{"i":350,"o":1.247,"h":1.24715,"l":1.2469,"c":1.24704,"m":0.00052,"s":0.00067},
{"i":351,"o":1.24704,"h":1.24805,"l":1.24698,"c":1.2476,"m":0.00053,"s":0.000641},
{"i":352,"o":1.2476,"h":1.2479,"l":1.2475,"c":1.24783,"m":0.00054,"s":0.000613},
{"i":353,"o":1.24783,"h":1.24866,"l":1.24775,"c":1.24832,"m":0.00058,"s":0.000593},
{"i":354,"o":1.24832,"h":1.24845,"l":1.24795,"c":1.24805,"m":0.00058,"s":0.000577},
{"i":355,"o":1.24809,"h":1.24815,"l":1.2472,"c":1.24726,"m":0.00052,"s":0.000559},
{"i":356,"o":1.24728,"h":1.24735,"l":1.2467,"c":1.24677,"m":0.00044,"s":0.000536},
{"i":357,"o":1.24681,"h":1.2469,"l":1.24625,"c":1.24632,"m":0.00035,"s":0.000511},
{"i":358,"o":1.24632,"h":1.2464,"l":1.2457,"c":1.24579,"m":0.00025,"s":0.000479},
{"i":359,"o":1.24579,"h":1.24585,"l":1.2455,"c":1.2456,"m":0.00016,"s":0.000439},
{"i":360,"o":1.2456,"h":1.2457,"l":1.2452,"c":1.24555,"m":0.0001,"s":0.000391},
{"i":361,"o":1.24558,"h":1.24595,"l":1.24535,"c":1.24587,"m":0.00006,"s":0.000338},
{"i":362,"o":1.24587,"h":1.24615,"l":1.2458,"c":1.2461,"m":0.00004,"s":0.000278},
{"i":363,"o":1.2461,"h":1.24635,"l":1.246,"c":1.24625,"m":0.00003,"s":0.000217},
{"i":364,"o":1.24625,"h":1.24685,"l":1.24618,"c":1.24674,"m":0.00005,"s":0.000164},
{"i":365,"o":1.24674,"h":1.2468,"l":1.2464,"c":1.24647,"m":0.00005,"s":0.000121},
{"i":366,"o":1.24647,"h":1.24735,"l":1.2464,"c":1.24723,"m":0.00009,"s":0.000092},
{"i":367,"o":1.24719,"h":1.24764,"l":1.24712,"c":1.24734,"m":0.00012,"s":0.000078},
{"i":368,"o":1.24734,"h":1.24787,"l":1.24728,"c":1.24756,"m":0.00015,"s":0.000077},
{"i":369,"o":1.24756,"h":1.24765,"l":1.2472,"c":1.24726,"m":0.00016,"s":0.000083},
{"i":370,"o":1.24728,"h":1.24785,"l":1.247,"c":1.24775,"m":0.00019,"s":0.000098},
{"i":371,"o":1.24771,"h":1.2478,"l":1.2473,"c":1.24738,"m":0.00019,"s":0.000114},
{"i":372,"o":1.24749,"h":1.2478,"l":1.2474,"c":1.24773,"m":0.0002,"s":0.000133},
{"i":373,"o":1.24773,"h":1.24785,"l":1.24765,"c":1.24774,"m":0.00021,"s":0.000151},
{"i":374,"o":1.24779,"h":1.24785,"l":1.24755,"c":1.24764,"m":0.00021,"s":0.000169},
{"i":375,"o":1.24768,"h":1.24772,"l":1.24735,"c":1.24741,"m":0.0002,"s":0.000181},
{"i":376,"o":1.24741,"h":1.24748,"l":1.24715,"c":1.24723,"m":0.00018,"s":0.000188},
{"i":377,"o":1.24726,"h":1.2473,"l":1.24705,"c":1.24716,"m":0.00016,"s":0.000189},
{"i":378,"o":1.24715,"h":1.24738,"l":1.24708,"c":1.2473,"m":0.00015,"s":0.000188},
{"i":379,"o":1.2473,"h":1.24735,"l":1.24685,"c":1.24692,"m":0.00012,"s":0.00018},
{"i":380,"o":1.24692,"h":1.24752,"l":1.24685,"c":1.24745,"m":0.00013,"s":0.000173},
{"i":381,"o":1.24745,"h":1.24762,"l":1.2474,"c":1.24754,"m":0.00014,"s":0.000167},
{"i":382,"o":1.24753,"h":1.2482,"l":1.24748,"c":1.24783,"m":0.00016,"s":0.000161},
{"i":383,"o":1.2479,"h":1.248,"l":1.24738,"c":1.24745,"m":0.00015,"s":0.000154},
{"i":384,"o":1.24749,"h":1.24755,"l":1.24728,"c":1.24734,"m":0.00013,"s":0.000147},
{"i":385,"o":1.24736,"h":1.24742,"l":1.2467,"c":1.24677,"m":0.00009,"s":0.000137},
{"i":386,"o":1.24681,"h":1.24686,"l":1.24645,"c":1.24655,"m":0.00005,"s":0.000124},
{"i":387,"o":1.24655,"h":1.2473,"l":1.24648,"c":1.24723,"m":0.00005,"s":0.000113},
{"i":388,"o":1.24723,"h":1.24728,"l":1.24685,"c":1.24692,"m":0.00004,"s":0.000104},
{"i":389,"o":1.24692,"h":1.247,"l":1.2465,"c":1.24658,"m":0.00001,"s":0.000091},
{"i":390,"o":1.24662,"h":1.24668,"l":1.2464,"c":1.24651,"m":-0.00001,"s":0.000074},
{"i":391,"o":1.24658,"h":1.24664,"l":1.24632,"c":1.24643,"m":-0.00003,"s":0.000053},
{"i":392,"o":1.24655,"h":1.2466,"l":1.24625,"c":1.24643,"m":-0.00004,"s":0.000032},
{"i":393,"o":1.24643,"h":1.24672,"l":1.24636,"c":1.24666,"m":-0.00004,"s":0.000013},
{"i":394,"o":1.24662,"h":1.24707,"l":1.24655,"c":1.24674,"m":-0.00004,"s":-0.000001},
{"i":395,"o":1.24675,"h":1.24685,"l":1.24662,"c":1.2467,"m":-0.00004,"s":-0.000011},
{"i":396,"o":1.24674,"h":1.2468,"l":1.2466,"c":1.24666,"m":-0.00005,"s":-0.000022},
{"i":397,"o":1.24666,"h":1.24692,"l":1.2466,"c":1.24677,"m":-0.00005,"s":-0.000032},
{"i":398,"o":1.24681,"h":1.2469,"l":1.24672,"c":1.24682,"m":-0.00006,"s":-0.00004},
{"i":399,"o":1.24677,"h":1.24685,"l":1.2466,"c":1.24666,"m":-0.00007,"s":-0.000047},
{"i":400,"o":1.24666,"h":1.24672,"l":1.2465,"c":1.24658,"m":-0.0001,"s":-0.000054},
{"i":401,"o":1.24658,"h":1.24668,"l":1.2465,"c":1.24659,"m":-0.00012,"s":-0.000063},
{"i":402,"o":1.2466,"h":1.24665,"l":1.24636,"c":1.24643,"m":-0.00014,"s":-0.000074},
{"i":403,"o":1.24647,"h":1.24652,"l":1.24618,"c":1.24625,"m":-0.00017,"s":-0.000089},
{"i":404,"o":1.24628,"h":1.24635,"l":1.2461,"c":1.24617,"m":-0.0002,"s":-0.000107},
{"i":405,"o":1.24617,"h":1.24635,"l":1.2461,"c":1.24628,"m":-0.00022,"s":-0.000126},
{"i":406,"o":1.24625,"h":1.24696,"l":1.24618,"c":1.2467,"m":-0.00019,"s":-0.000141},
{"i":407,"o":1.2467,"h":1.24676,"l":1.2461,"c":1.24617,"m":-0.00021,"s":-0.000158},
{"i":408,"o":1.24617,"h":1.24622,"l":1.24585,"c":1.24594,"m":-0.00024,"s":-0.000177},
{"i":409,"o":1.24594,"h":1.24635,"l":1.2458,"c":1.24628,"m":-0.00023,"s":-0.000191},
{"i":410,"o":1.24628,"h":1.2466,"l":1.24555,"c":1.24572,"m":-0.00026,"s":-0.000207},
{"i":411,"o":1.24572,"h":1.24625,"l":1.24565,"c":1.24617,"m":-0.00023,"s":-0.000217},
{"i":412,"o":1.24621,"h":1.2466,"l":1.2459,"c":1.24598,"m":-0.00022,"s":-0.000222},
{"i":413,"o":1.24598,"h":1.2465,"l":1.2459,"c":1.24632,"m":-0.00019,"s":-0.000221},
{"i":414,"o":1.24643,"h":1.2465,"l":1.24545,"c":1.24579,"m":-0.0002,"s":-0.000219},
{"i":415,"o":1.24579,"h":1.2467,"l":1.2457,"c":1.24664,"m":-0.00014,"s":-0.000213},
{"i":416,"o":1.24665,"h":1.24674,"l":1.24642,"c":1.24672,"m":-0.000113,"s":-0.000194}
]
},
"vconcat": [
{
  "width": 1860, "height": 600,
  "title": {"text": "▾ USDCADstp,M15\u00a0 1.24665 1.24674 1.24642 1.24672", "offset": -12, "dx": 4},
  "layer": [
    {"data": {"name": "sep"}, "mark": {"type": "rule", "color": "#ffffff", "strokeDash": [3, 3], "strokeWidth": 1},
     "encoding": {"x": {"field": "i", "type": "quantitative", "scale": {"domain": [-0.375, 464.625], "nice": false, "zero": false}, "axis": null}}},
    {"data": {"name": "bars"}, "mark": {"type": "rule", "strokeWidth": 1},
     "encoding": {
       "x": {"field": "i", "type": "quantitative", "scale": {"domain": [-0.375, 464.625], "nice": false, "zero": false}, "axis": null},
       "y": {"field": "l", "type": "quantitative", "scale": {"domain": [1.24288, 1.256446], "nice": false, "zero": false},
             "axis": {"orient": "right", "title": null, "format": ".5f", "tickCount": 40, "labelOverlap": false, "labelBound": false, "values": [1.2557, 1.25495, 1.2542, 1.25345, 1.2527, 1.25195, 1.2512, 1.25045, 1.2497, 1.24895, 1.2482, 1.24745, 1.24595, 1.2452, 1.24445, 1.2437, 1.24295]}},
       "y2": {"field": "h"},
       "color": {"condition": {"test": "datum.c >= datum.o", "value": "#1c9a1c"}, "value": "#ee1c1c"}}},
    {"data": {"name": "bars"}, "mark": {"type": "bar", "width": 3},
     "encoding": {
       "x": {"field": "i", "type": "quantitative", "scale": {"domain": [-0.375, 464.625], "nice": false, "zero": false}, "axis": null},
       "y": {"field": "o", "type": "quantitative", "scale": {"domain": [1.24288, 1.256446], "nice": false, "zero": false}},
       "y2": {"field": "c"},
       "color": {"condition": {"test": "datum.c >= datum.o", "value": "#1c9a1c"}, "value": "#ee1c1c"}}},
    {"data": {"name": "lv"}, "transform": [{"filter": "datum.t == 'b'"}], "mark": {"type": "rule", "color": "#1414c8", "strokeWidth": 2},
     "encoding": {"y": {"field": "p", "type": "quantitative", "scale": {"domain": [1.24288, 1.256446], "nice": false, "zero": false}}}},
    {"data": {"name": "lv"}, "transform": [{"filter": "datum.t == 'g'"}], "mark": {"type": "rule", "color": "#a0a0a0", "strokeWidth": 1},
     "encoding": {"y": {"field": "p", "type": "quantitative", "scale": {"domain": [1.24288, 1.256446], "nice": false, "zero": false}}}},
    {"data": {"name": "arw"}, "mark": {"type": "line", "color": "#ffa020", "strokeWidth": 2},
     "encoding": {
       "x": {"field": "i", "type": "quantitative", "scale": {"domain": [-0.375, 464.625], "nice": false, "zero": false}, "axis": null},
       "y": {"field": "p", "type": "quantitative", "scale": {"domain": [1.24288, 1.256446], "nice": false, "zero": false}},
       "detail": {"field": "g"},
       "order": {"field": "k", "type": "quantitative"}}},
    {"data": {"name": "lv"}, "mark": {"type": "tick", "orient": "horizontal", "thickness": 11, "size": 42, "clip": false},
     "encoding": {
       "x": {"datum": 470.1, "type": "quantitative", "scale": {"domain": [-0.375, 464.625], "nice": false, "zero": false}, "axis": null},
       "y": {"field": "p", "type": "quantitative", "scale": {"domain": [1.24288, 1.256446], "nice": false, "zero": false}},
       "color": {"condition": {"test": "datum.t == 'b'", "value": "#1830e0"}, "value": "#ffffff"}}},
    {"data": {"name": "lv"}, "mark": {"type": "text", "font": "Liberation Sans", "fontSize": 9, "align": "center", "baseline": "middle", "clip": false},
     "encoding": {
       "x": {"datum": 470.1, "type": "quantitative", "scale": {"domain": [-0.375, 464.625], "nice": false, "zero": false}, "axis": null},
       "y": {"field": "p", "type": "quantitative", "scale": {"domain": [1.24288, 1.256446], "nice": false, "zero": false}},
       "text": {"field": "p", "type": "quantitative", "format": ".5f"},
       "color": {"condition": {"test": "datum.t == 'b'", "value": "#000090"}, "value": "#000000"}}}
  ]
},
{
  "width": 1860, "height": 136,
  "title": {"text": "MACD(12,26,9) -0.000113 -0.000194", "offset": -12, "dx": 6},
  "layer": [
    {"data": {"name": "bars"}, "mark": {"type": "rule", "color": "#f0f0f0", "strokeWidth": 1},
     "encoding": {
       "x": {"field": "i", "type": "quantitative", "scale": {"domain": [-0.375, 464.625], "nice": false, "zero": false},
             "axis": {"orient": "bottom", "title": null, "tickCount": 60, "values": [0, 16, 32, 48, 64, 80, 96, 112, 128, 144, 160, 176, 192, 208, 224, 240, 256, 272, 288, 304, 320, 336, 352, 368, 384, 400, 416],
                      "labelExpr": "datum.value == 0 ? '9 Oct 2017' : timeFormat(datetime(2017, 9, 9, 3, 30 + datum.value * 15), '%-d %b %H:%M')",
                      "labelAlign": "left", "labelFlush": false, "labelOverlap": false, "labelBound": false}},
       "y": {"field": "m", "type": "quantitative", "scale": {"domain": [-0.001465, 0.000885], "nice": false, "zero": false},
             "axis": {"orient": "right", "title": null, "values": [0.000885, 0, -0.001465], "labelFlush": true, "labelPadding": 0, "labelFontSize": 8.5, "labelOverlap": false,
                      "labelExpr": "datum.value > 0.0001 ? '0.000885' : datum.value < -0.0001 ? '-0.001465' : '0.00'"}},
       "y2": {"datum": 0}}},
    {"data": {"name": "sep"}, "mark": {"type": "rule", "color": "#ffffff", "strokeDash": [3, 3], "strokeWidth": 1},
     "encoding": {"x": {"field": "i", "type": "quantitative", "scale": {"domain": [-0.375, 464.625], "nice": false, "zero": false}}}},
    {"data": {"name": "bars"}, "mark": {"type": "line", "color": "#e02828", "strokeWidth": 1, "strokeDash": [3, 3]},
     "encoding": {
       "x": {"field": "i", "type": "quantitative", "scale": {"domain": [-0.375, 464.625], "nice": false, "zero": false}},
       "y": {"field": "s", "type": "quantitative", "scale": {"domain": [-0.001465, 0.000885], "nice": false, "zero": false}}}}
  ]
}
]
}
